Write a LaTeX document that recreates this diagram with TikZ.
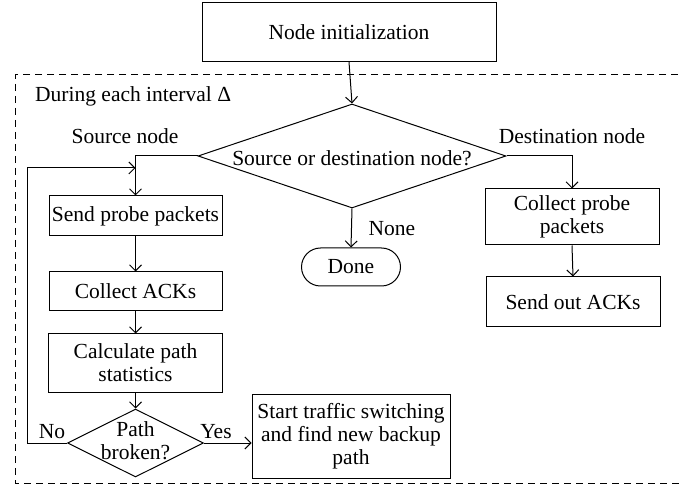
\documentclass[tikz,border=0pt]{standalone}
\usepackage{fontspec}
\setmainfont{Liberation Serif}
\usetikzlibrary{shapes.geometric,arrows.meta}
\begin{document}
\begin{tikzpicture}[x=1pt,y=-1pt,
  every node/.style={font=\fontsize{21.5}{23}\selectfont, inner sep=0pt},
  box/.style={draw, line width=1pt, align=center},
  diam/.style={draw, diamond, line width=1pt, inner sep=0pt},
  stadium/.style={draw, line width=1pt, rounded corners=19pt},
  lbl/.style={},
  arr/.style={line width=1pt, -{Straight Barb[length=6pt,width=12pt,line width=1pt]}},
  frame/.style={line width=1pt, dash pattern=on 7pt off 5pt}
]
\useasboundingbox (0,0) rectangle (683,486);
% dashed frame (open on the right, beyond the picture)
\coordinate (fTR) at (690,75);
\coordinate (fTL) at (15,75);
\coordinate (fBL) at (15,483);
\coordinate (fBR) at (690,483);
\draw[frame] (fTR) -- (fTL) -- (fBL) -- (fBR);

\node[box, minimum width=294pt, minimum height=59pt] (init) at (349,32) {Node initialization};
\node[lbl, anchor=west] (during) at (35,96) {During each interval Δ};

\node[diam, minimum width=308pt, minimum height=104pt] (dec) at (352,156) {};
\node[lbl] (dect) at (352,158) {Source or destination node?};
\node[lbl] (srcl) at (125,136) {Source node};
\node[lbl] (dstl) at (572,136) {Destination node};

\node[box, minimum width=173pt, minimum height=40pt] (sp) at (135.5,216) {Send probe packets};
\node[box, minimum width=173pt, minimum height=39pt] (ca) at (135.5,291.5) {Collect ACKs};
\node[box, minimum width=174pt, minimum height=58pt] (calc) at (135.5,363) {Calculate path\\statistics};
\node[diam, minimum width=136pt, minimum height=68pt] (pb) at (135.5,443) {};
\node[lbl, align=center] (pbt) at (135.5,441) {Path\\broken?};
\node[lbl] (nol) at (52,432) {No};
\node[lbl] (yesl) at (216,432) {Yes};
\node[box, minimum width=198pt, minimum height=84pt] (st) at (351,436) {Start traffic switching\\and find new backup\\path};

\node[stadium, minimum width=99pt, minimum height=38pt] (done) at (351,267) {Done};
\node[lbl] (nonel) at (392,229) {None};

\node[box, minimum width=174pt, minimum height=56pt] (cpp) at (572,217) {Collect probe\\packets};
\node[box, minimum width=174pt, minimum height=50pt] (soa) at (573,302) {Send out ACKs};

% connectors
\draw[arr] (init.south) -- (dec.north);
\draw[arr] (dec.west) -| (sp.north);
\draw[arr] (dec.east) -| (cpp.north);
\draw[arr] (dec.south) -- (done.north);
\draw[arr] (sp.south) -- (ca.north);
\draw[arr] (ca.south) -- (calc.north);
\draw[arr] (calc.south) -- (pb.north);
\draw[arr] (pb.east) -- (pb.east -| st.west);
\draw[arr] (cpp.south) -- (soa.north);
\coordinate (loopc) at (27,168);
\coordinate (loopin) at (135.5,168);
\draw[arr] (pb.west) -| (loopc) -- (loopin);
\end{tikzpicture}
\end{document}
